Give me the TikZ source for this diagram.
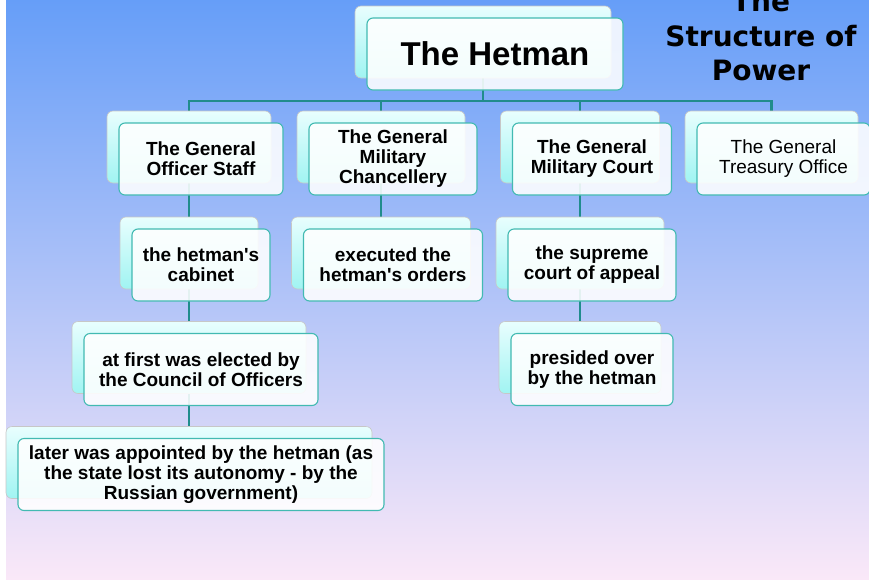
\documentclass[tikz,border=0pt]{standalone}
\usepackage{fontspec}
\setmainfont{Liberation Sans}[Ligatures=TeXOff]
\newfontfamily\titlefont{DejaVu Sans}
\usetikzlibrary{backgrounds}

\definecolor{bgtop}{RGB}{102,158,248}
\definecolor{bgmid}{RGB}{163,198,241}
\definecolor{bgbot}{RGB}{250,232,248}
\definecolor{backtop}{RGB}{232,254,254}
\definecolor{backbot}{RGB}{160,244,242}
\definecolor{rim}{RGB}{66,186,178}
\definecolor{linkcol}{RGB}{32,140,140}

% one box of the chart: a back card and a front card with the text
\newcommand\twobox[5][]{%
  \node[backbox,minimum width=#4] (#2) at (#3) {};
  \node[frontbox,minimum width=#4,#1] (#2f) at ([shift={(12,12)}]#2.center) {#5};}

\begin{document}
\begin{tikzpicture}[x=1pt,y=-1pt,
    backbox/.style={rectangle,rounded corners=6pt,draw=black!22,line width=.6pt,
      top color=backtop,bottom color=backbot,minimum height=72pt,inner sep=0pt},
    frontbox/.style={rectangle,rounded corners=6pt,draw=rim,line width=1.1pt,
      fill=white,fill opacity=.88,text opacity=1,minimum height=72pt,inner sep=0pt,
      align=center,font=\fontsize{19}{20}\selectfont\bfseries},
    link/.style={draw=linkcol,line width=2.5pt}]
  \useasboundingbox (0,0) rectangle (869,579);
  \begin{scope}[on background layer]
    \fill[white] (0,0) rectangle (869,579);
    \shade[top color=bgtop,middle color=bgmid,bottom color=bgbot] (6,0) rectangle (869,579);
  \end{scope}

  \node[font={\titlefont\fontsize{28}{34.5}\selectfont\bfseries},align=center,inner sep=0pt]
    (title) at (761,36) {The\\Structure of\\Power};

  \twobox[font=\fontsize{33}{38}\selectfont\bfseries]{H}{483,42}{256pt}{The Hetman}

  \twobox{S}{189,147}{164pt}{The General\\Officer Staff}
  \twobox{M}{381,147}{168pt}{The General\\Military\\Chancellery}
  \twobox{C}{580,147}{159pt}{The General\\Military Court}
  \twobox[font=\fontsize{19}{20}\selectfont]{T}{771.5,147}{173pt}{The General\\Treasury Office}

  \twobox{s1}{189,253}{138pt}{the hetman's\\cabinet}
  \twobox{m1}{381,253}{179pt}{executed the\\hetman's orders}
  \twobox{c1}{580,253}{168pt}{the supreme\\court of appeal}

  \twobox{s2}{189,357.5}{234pt}{at first was elected by\\the Council of Officers}
  \twobox{c2}{580,357.5}{162pt}{presided over\\by the hetman}

  \twobox{s3}{189,462.5}{366pt}{later was appointed by the hetman (as\\the state lost its autonomy - by the\\Russian government)}

  \begin{scope}[on background layer]
    \coordinate (bus) at (483,101);
    \draw[link] (H) -- (bus) -| (S);
    \draw[link] (bus) -| (M);
    \draw[link] (bus) -| (C);
    \draw[link] (bus) -| (T);
    \draw[link] (S) -- (s1); \draw[link] (s1) -- (s2); \draw[link] (s2) -- (s3);
    \draw[link] (M) -- (m1);
    \draw[link] (C) -- (c1); \draw[link] (c1) -- (c2);
  \end{scope}
\end{tikzpicture}
\end{document}
